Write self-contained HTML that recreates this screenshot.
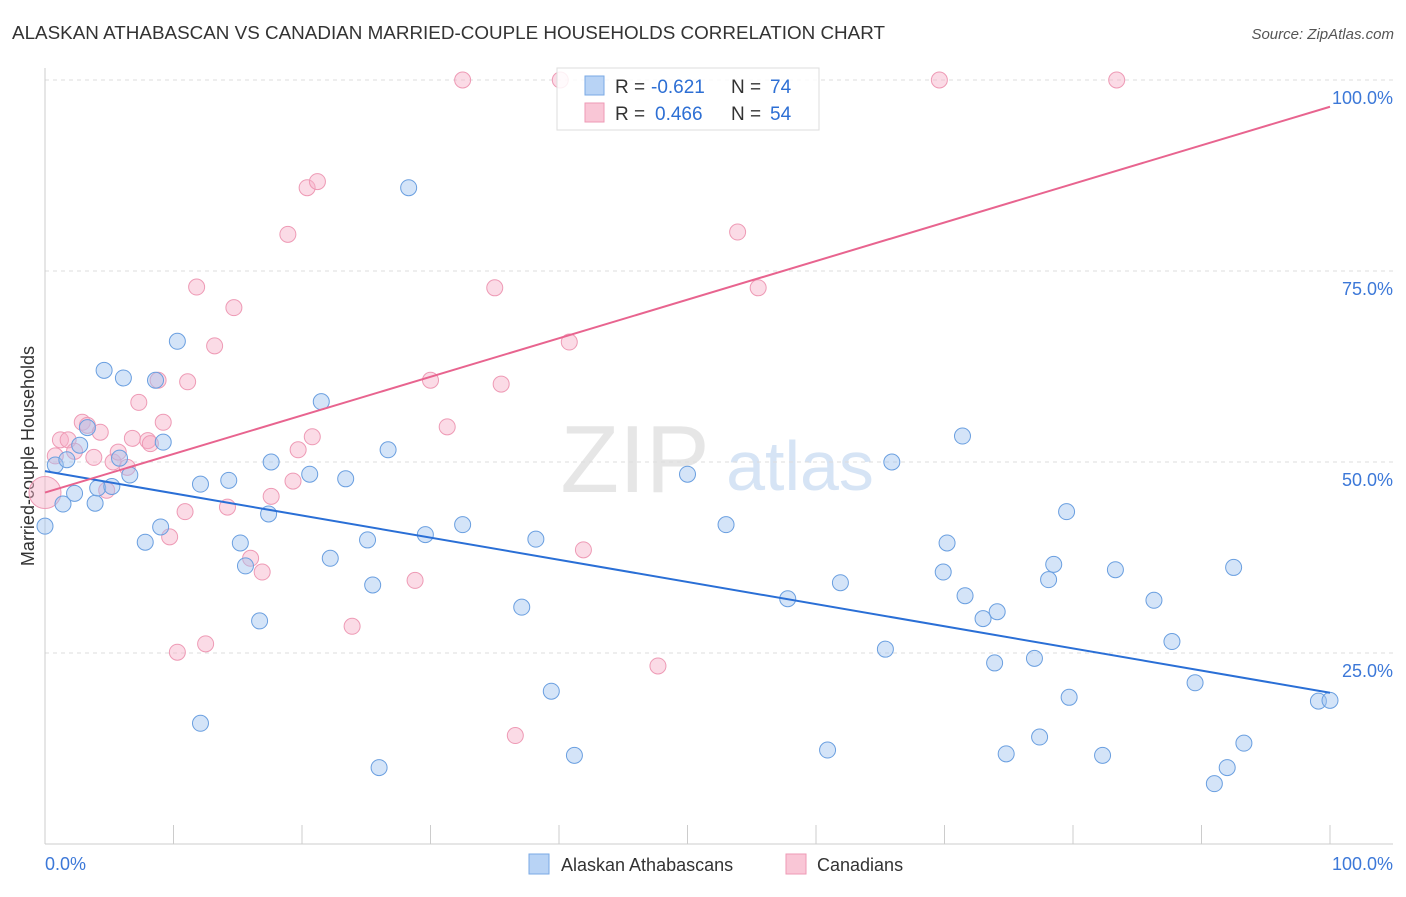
<!DOCTYPE html>
<html><head><meta charset="utf-8"><style>
body{margin:0;background:#fff;font-family:"Liberation Sans",sans-serif;}
svg text{font-family:"Liberation Sans",sans-serif;}
</style></head><body>
<svg id="chart" width="1406" height="892">
<text x="12" y="39" font-size="18" fill="#333" textLength="873" lengthAdjust="spacingAndGlyphs">ALASKAN ATHABASCAN VS CANADIAN MARRIED-COUPLE HOUSEHOLDS CORRELATION CHART</text>
<text x="1394" y="39" font-size="15" fill="#555" font-style="italic" text-anchor="end">Source: ZipAtlas.com</text>
<text x="635" y="492" font-size="96" fill="#e6e6e6" font-family="Liberation Serif" text-anchor="middle">ZIP</text>
<text x="800" y="490" font-size="70" fill="#d6e4f5" text-anchor="middle">atlas</text>
<g id="grid"></g>
<g id="axes"></g>
<text x="34" y="456" font-size="18" fill="#333" transform="rotate(-90 34 456)" text-anchor="middle">Married-couple Households</text>
<g id="pts"></g>
<g id="lines"></g>
<g>
<rect x="557" y="68" width="262" height="62" fill="rgba(255,255,255,0.85)" stroke="#ddd"/>
<rect x="585" y="76" width="19" height="19" fill="#b8d3f5" stroke="#7aaae5"/>
<rect x="585" y="103" width="19" height="19" fill="#f9c6d6" stroke="#ee9ab5"/>
<text x="615" y="93" font-size="19" fill="#333">R =</text>
<text x="651" y="93" font-size="19" fill="#2d6fd4">-0.621</text>
<text x="731" y="93" font-size="19" fill="#333">N =</text>
<text x="770" y="93" font-size="19" fill="#2d6fd4">74</text>
<text x="615" y="120" font-size="19" fill="#333">R =</text>
<text x="655" y="120" font-size="19" fill="#2d6fd4">0.466</text>
<text x="731" y="120" font-size="19" fill="#333">N =</text>
<text x="770" y="120" font-size="19" fill="#2d6fd4">54</text>
</g>
<g>
<rect x="529" y="854" width="20" height="20" fill="#b8d3f5" stroke="#7aaae5"/>
<text x="561" y="871" font-size="18" fill="#333">Alaskan Athabascans</text>
<rect x="786" y="854" width="20" height="20" fill="#f9c6d6" stroke="#ee9ab5"/>
<text x="817" y="871" font-size="18" fill="#333">Canadians</text>
</g>
</svg>
<script>
const yTicks=[25,50,75,100];
const yTickLabels=["25.0%","50.0%","75.0%","100.0%"];
const xTickLabels=["0.0%","100.0%"];
const blueX=[0,0.8,1.4,1.7,2.3,2.7,3.3,3.9,4.1,4.6,5.2,5.8,6.1,6.6,7.8,8.6,9,9.2,10.3,12.1,12.1,14.3,15.2,15.6,17.4,17.6,16.7,20.6,21.5,22.2,23.4,25.1,25.5,26,26.7,28.3,29.6,32.5,37.1,38.2,39.4,41.2,50,53,57.8,60.9,61.9,65.4,65.9,70.2,69.9,71.4,71.6,73,73.9,74.1,74.8,77,77.4,78.1,78.5,79.5,79.7,82.3,83.3,86.3,87.7,89.5,91,92,92.5,93.3,99.1,100];
const blueY=[41.6,49.6,44.5,50.3,45.9,52.2,54.5,44.6,46.6,62,46.8,50.5,61,48.3,39.5,60.7,41.5,52.6,65.8,47.1,15.8,47.6,39.4,36.4,43.2,50,29.2,48.4,57.9,37.4,47.8,39.8,33.9,10,51.6,85.9,40.5,41.8,31,39.9,20,11.6,48.4,41.8,32.1,12.3,34.2,25.5,50,39.4,35.6,53.4,32.5,29.5,23.7,30.4,11.8,24.3,14,34.6,36.6,43.5,19.2,11.6,35.9,31.9,26.5,21.1,7.9,10,36.2,13.2,18.7,18.8];
const pinkX=[0,0.8,1.2,1.8,2.3,2.9,3.3,3.8,4.3,4.8,5.3,5.7,6.4,6.8,7.3,8,8.2,8.8,9.2,9.7,10.3,10.9,11.1,11.8,12.5,13.2,14.2,14.7,16,16.9,17.6,18.9,19.3,19.7,20.4,20.8,21.2,23.9,28.8,30,31.3,32.5,35,35.5,36.6,40.1,40.8,41.9,47.7,53.9,55.5,69.6,83.4];
const pinkY=[46,50.8,52.9,52.9,51.4,55.2,54.8,50.6,53.9,46.3,50,51.3,49.3,53.1,57.8,52.8,52.4,60.7,55.2,40.2,25.1,43.5,60.5,72.9,26.2,65.2,44.1,70.2,37.4,35.6,45.5,79.8,47.5,51.6,85.9,53.3,86.7,28.5,34.5,60.7,54.6,100,72.8,60.2,14.2,100,65.7,38.5,23.3,80.1,72.8,100,100];
const blueLine=[48.8,19.8];
const pinkLine=[46,96.5];
const X0=45,X1=1330,Y0=844,YPX=7.64;
const sx=v=>X0+(X1-X0)*v/100, sy=v=>Y0-YPX*v;
const NS="http://www.w3.org/2000/svg";
function mk(t,a,p){const e=document.createElementNS(NS,t);for(const k in a)e.setAttribute(k,a[k]);p.appendChild(e);return e;}
const grid=document.getElementById('grid'),axes=document.getElementById('axes');
yTicks.forEach((t,i)=>{
 const l=mk('line',{x1:X0,x2:1393,y1:sy(t),y2:sy(t),stroke:'#ddd','stroke-dasharray':'4,4'},grid);
 
 
 const tx=mk('text',{x:1393,y:sy(t)+24,'font-size':18,fill:'#3c78d8','text-anchor':'end'},grid);
 tx.textContent=yTickLabels[i];
 
 
});
const ax=mk('line',{x1:X0,x2:1393,y1:Y0,y2:Y0,stroke:'#ccc'},axes);


const ay=mk('line',{x1:X0,x2:X0,y1:68,y2:Y0,stroke:'#ccc'},axes);


for(let i=1;i<=10;i++){const t=mk('line',{x1:sx(i*10),x2:sx(i*10),y1:825,y2:Y0,stroke:'#ccc'},axes);
 
 }
[[0,'start',45],[100,'end',1393]].forEach((d,i)=>{const t=mk('text',{x:d[2],y:870,'font-size':18,fill:'#3c78d8','text-anchor':d[1]},axes);t.textContent=xTickLabels[i];
 
 });
const pts=document.getElementById('pts');
pinkX.forEach((x,i)=>{const c=mk('circle',{cx:sx(x),cy:sy(pinkY[i]),r:i===0?16:8,fill:'rgba(246,175,199,0.45)',stroke:'#ee9ab5','stroke-width':1},pts);
 
 });
blueX.forEach((x,i)=>{const c=mk('circle',{cx:sx(x),cy:sy(blueY[i]),r:8,fill:'rgba(160,195,240,0.45)',stroke:'#6a9fe0','stroke-width':1},pts);
 
 });
const lines=document.getElementById('lines');
const bl=mk('line',{x1:sx(0),x2:sx(100),y1:sy(blueLine[0]),y2:sy(blueLine[1]),stroke:'#2a6fd6','stroke-width':2},lines);


const pl=mk('line',{x1:sx(0),x2:sx(100),y1:sy(pinkLine[0]),y2:sy(pinkLine[1]),stroke:'#e8648f','stroke-width':2},lines);


</script>
</body></html>
